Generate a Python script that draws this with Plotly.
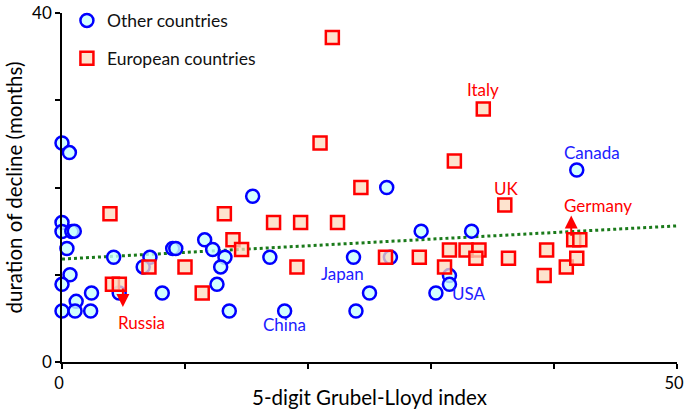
import plotly.graph_objects as go

# Other countries (circles)
other_x = [0.0, 0.6, 0.0, 0.0, 0.8, 1.0, 0.4, 0.65, 0.0, 2.4, 1.15, 0.0, 1.06, 2.33,
           4.2, 4.65, 7.15, 6.6, 8.15, 9.0, 9.25, 11.6, 12.25, 13.25, 12.9, 12.6, 13.6,
           15.5, 16.9, 18.1, 23.7, 23.9, 25.0, 26.4, 26.7, 29.2, 30.4, 31.5, 31.5, 33.3, 41.85]
other_y = [25.1, 24.0, 16.0, 14.95, 14.95, 15.0, 13.0, 10.0, 8.9, 7.9, 6.95, 5.85, 5.85, 5.85,
           12.0, 7.9, 12.0, 10.9, 7.9, 13.0, 13.0, 14.0, 12.9, 12.0, 10.9, 8.9, 5.85,
           19.0, 12.0, 5.85, 12.0, 5.85, 7.9, 20.0, 12.0, 15.0, 7.9, 9.9, 8.9, 15.0, 22.0]

# European countries (squares)
euro_x = [3.9, 4.1, 4.66, 7.07, 10.0, 11.4, 13.2, 13.9, 14.6, 17.2, 19.1, 19.4, 20.98, 21.98,
          22.4, 24.3, 26.3, 29.05, 31.1, 31.5, 31.9, 32.85, 33.9, 33.65, 34.25, 36.0, 36.3,
          39.4, 39.2, 41.0, 41.85, 41.6, 42.1]
euro_y = [17.0, 8.9, 8.9, 10.9, 10.9, 7.9, 17.0, 14.0, 12.9, 16.0, 10.9, 16.0, 25.1, 37.2,
          16.0, 20.0, 12.0, 12.0, 10.9, 12.85, 23.05, 12.85, 12.85, 11.9, 29.0, 18.0, 11.9,
          12.85, 9.9, 10.9, 11.9, 14.0, 14.0]

# Trend line end points
trend_x = [0, 50]
trend_y = [11.8, 15.6]

# Country labels
other_labels = ["China", "Japan", "USA", "Canada"]
other_label_x = [18.1, 22.8, 33.1, 43.1]
other_label_y = [4.25, 10.2, 7.9, 24.05]
euro_labels = ["Russia", "Italy", "UK", "Germany"]
euro_label_x = [6.5, 34.2, 36.1, 43.6]
euro_label_y = [4.55, 31.2, 19.9, 17.9]

# Arrows: (x, start y, end y)
arrow_x = [4.95, 41.4]
arrow_y0 = [8.6, 14.3]
arrow_y1 = [6.3, 16.8]

FONT = "Lato, Carlito, Calibri, sans-serif"

fig = go.Figure()

fig.add_trace(go.Scatter(
    x=trend_x, y=trend_y, mode="lines", showlegend=False,
    line=dict(color="#1a7a1a", width=3, dash="dot"), hoverinfo="skip"))

fig.add_trace(go.Scatter(
    x=other_x, y=other_y, mode="markers", name="Other countries",
    legendgroup="a", cliponaxis=False,
    marker=dict(symbol="circle", size=13, color="rgba(200,255,255,0.8)",
                line=dict(color="#0000ff", width=2.5))))

fig.add_trace(go.Scatter(
    x=euro_x, y=euro_y, mode="markers", name="European countries",
    legendgroup="b", cliponaxis=False,
    marker=dict(symbol="square", size=13, color="rgba(252,218,190,0.75)",
                line=dict(color="#ff0000", width=2.5))))

annotations = []
for t, x, y in zip(other_labels, other_label_x, other_label_y):
    annotations.append(dict(x=x, y=y, text=t, showarrow=False,
                            font=dict(family=FONT, size=17, color="#2020ff")))
for t, x, y in zip(euro_labels, euro_label_x, euro_label_y):
    annotations.append(dict(x=x, y=y, text=t, showarrow=False,
                            font=dict(family=FONT, size=17, color="#ff0000")))
for x, y0, y1 in zip(arrow_x, arrow_y0, arrow_y1):
    annotations.append(dict(x=x, y=y1, ax=x, ay=y0, xref="x", yref="y",
                            axref="x", ayref="y", text="", showarrow=True,
                            arrowhead=2, arrowsize=1.3, arrowwidth=2,
                            arrowcolor="#ff0000"))

fig.update_layout(
    width=685, height=409,
    margin=dict(l=62, r=8, t=13, b=47, autoexpand=False),
    paper_bgcolor="white", plot_bgcolor="white",
    font=dict(family=FONT, size=17, color="#000000"),
    showlegend=True,
    legend=dict(x=0.008, y=1.03, xanchor="left", yanchor="top",
                bgcolor="rgba(0,0,0,0)", font=dict(size=17.5, color="#111111"),
                tracegroupgap=12, traceorder="grouped", itemwidth=30),
    annotations=annotations,
    xaxis=dict(range=[0, 50], showgrid=False, zeroline=False, automargin=False,
               showline=True, linecolor="#000000", linewidth=1.5,
               ticks="outside", ticklen=5, tickcolor="#000000", tickwidth=1.5,
               tickvals=[0, 10, 20, 30, 40, 50],
               ticktext=["0", "", "", "", "", "50"],
               ticklabeloverflow="allow", ticklabelshift=-3,
               tickfont=dict(size=16.5),
               title=dict(text="5-digit Grubel-Lloyd index", font=dict(size=20.5), standoff=0)),
    yaxis=dict(range=[0, 40], showgrid=False, zeroline=False, automargin=False,
               showline=True, linecolor="#000000", linewidth=1.5,
               ticks="outside", ticklen=5, tickcolor="#000000", tickwidth=1.5,
               tickvals=[0, 10, 20, 30, 40],
               ticktext=["0", "", "", "", "40"],
               ticklabeloverflow="allow",
               tickfont=dict(size=17),
               title=dict(text="duration of decline (months)", font=dict(size=20.5), standoff=4)),
)

fig.write_html("out.html",
               config={"displayModeBar": False},
               post_script="document.body.style.margin='0';document.body.style.overflow='hidden';")
